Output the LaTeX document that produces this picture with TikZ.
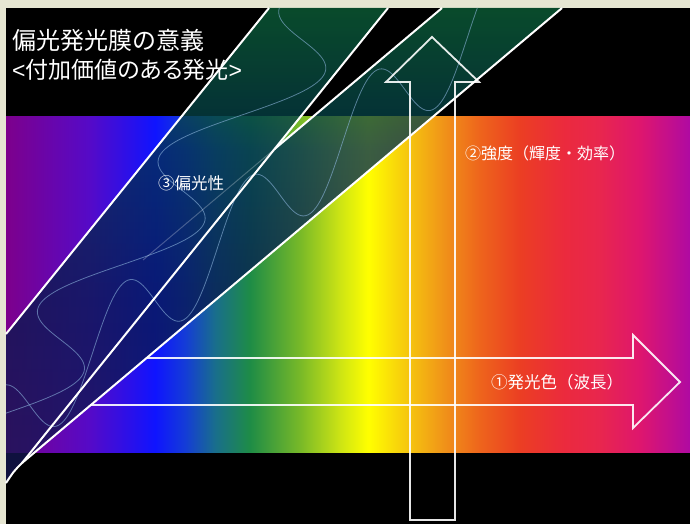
\documentclass[tikz,border=0pt]{standalone}
\usepackage{fontspec}
\newfontfamily\jpfont{Noto Sans CJK JP}
\newfontfamily\jppropfont[RawFeature=+palt]{Noto Sans CJK JP}
\newfontfamily\latinfont{Liberation Sans}
\usetikzlibrary{calc}

% page and backdrop
\definecolor{paper}{RGB}{230,230,210}
% spectrum stops
\definecolor{sp1}{RGB}{125,0,140}
\definecolor{sp2}{RGB}{85,10,200}
\definecolor{sp3}{RGB}{15,20,255}
\definecolor{sp4}{RGB}{20,60,215}
\definecolor{sp5}{RGB}{25,110,140}
\definecolor{sp6}{RGB}{30,140,70}
\definecolor{sp7}{RGB}{120,185,40}
\definecolor{sp8}{RGB}{205,228,20}
\definecolor{sp9}{RGB}{255,255,0}
\definecolor{sp10}{RGB}{245,195,15}
\definecolor{sp11}{RGB}{240,145,25}
\definecolor{sp12}{RGB}{238,100,28}
\definecolor{sp13}{RGB}{235,62,35}
\definecolor{sp14}{RGB}{235,42,62}
\definecolor{sp15}{RGB}{232,38,78}
\definecolor{sp16}{RGB}{222,22,110}
\definecolor{sp17}{RGB}{175,10,162}
% beam tint, bottom to top
\definecolor{bm1}{RGB}{22,22,82}
\definecolor{bm2}{RGB}{8,26,80}
\definecolor{bm3}{RGB}{4,48,84}
\definecolor{bm4}{RGB}{6,64,70}
\definecolor{bm5}{RGB}{12,96,56}
\definecolor{wavecol}{RGB}{140,180,220}

\pgfdeclarehorizontalshading{spectrum}{100bp}{%
  color(0bp)=(sp1); color(25bp)=(sp1); color(31.14bp)=(sp2);
  color(35.89bp)=(sp3); color(38.08bp)=(sp4); color(40.28bp)=(sp5);
  color(42.84bp)=(sp6); color(46.49bp)=(sp7); color(49.42bp)=(sp8);
  color(51.46bp)=(sp9); color(54.53bp)=(sp10); color(57.09bp)=(sp11);
  color(59.65bp)=(sp12); color(62.57bp)=(sp13); color(65.86bp)=(sp14);
  color(68.42bp)=(sp15); color(71.35bp)=(sp16); color(75bp)=(sp17);
  color(100bp)=(sp17)}

\pgfdeclareverticalshading{beamshade}{100bp}{%
  color(0bp)=(bm1); color(25bp)=(bm1); color(44.3bp)=(bm2);
  color(60bp)=(bm3); color(63.5bp)=(bm4); color(75bp)=(bm5);
  color(100bp)=(bm5)}

\tikzset{
  edgeline/.style={white, line width=2pt, line join=miter},
  arrowline/.style={white, draw opacity=0.9, line width=1.8pt, line join=miter},
  wave/.style={wavecol, draw opacity=0.6, line width=0.8pt},
  titletext/.style={anchor=base west, inner sep=0pt, text=white,
    font=\jpfont\fontsize{24}{28}\selectfont},
  lbltext/.style={anchor=center, inner sep=0pt, text=white,
    font=\jpfont\fontsize{16.5}{20}\selectfont}
}

\begin{document}
\begin{tikzpicture}[x=1pt, y=-1pt]
  \useasboundingbox (0,0) rectangle (690,524);
  \fill[paper] (0,0) rectangle (690,524);
  \fill[black] (6,8) rectangle (690,524);

  % beam corner points
  \coordinate (a1) at (269,8);
  \coordinate (a2) at (388,8);
  \coordinate (b1) at (442,8);
  \coordinate (b2) at (562,8);
  \coordinate (src) at (22,463);
  \coordinate (tail) at (6,483);
  \coordinate (a1end) at (6,334);
  \coordinate (cross) at (274.4,149.2);
  \coordinate (b1fade) at (143,260);

  % colour spectrum
  \shade[shading=spectrum] (6,117) rectangle (690,452);

  % wavelength arrow (its tail runs under the beam)
  \coordinate (h0) at (146.5,358);
  \coordinate (h1) at (633,358);
  \coordinate (h2) at (633,335);
  \coordinate (htip) at (680,382);
  \coordinate (h3) at (633,428);
  \coordinate (h4) at (633,405);
  \coordinate (h5) at (91,405);
  \draw[arrowline] (h0) -- (h1) -- (h2) -- (htip) -- (h3) -- (h4) -- (h5);

  % tinted beam
  \shade[shading=beamshade, opacity=0.78]
    (a1) -- (a2) -- (cross) -- (b1) -- (b2) -- (src)
    .. controls (14,471) .. (tail) -- (a1end) -- cycle;

  % oscillation curves inside the two beams
  \begin{scope}
    \clip (a1) -- (a2) -- (src) -- (tail) -- (a1end) -- cycle;
    \draw[wave] plot[domain=8:483, samples=220, variable=\t, smooth]
      ({328 - 0.8044*(\t-8) + 50*sin(2.4*(\t-40))}, {\t});
  \end{scope}
  \begin{scope}
    \clip (b1) -- (b2) -- (src) -- (tail) -- (6,377) -- cycle;
    \draw[wave] plot[domain=6:562, samples=220, variable=\s, smooth]
      ({\s}, {8 + (502-\s)/1.1868 + 44*sin(2.88*(\s-30))});
  \end{scope}

  % beam edges
  \draw[edgeline] (a1) -- (a1end);
  \draw[edgeline] (a2) -- (src);
  \draw[edgeline] (b1) -- (cross);
  \draw[white, opacity=0.25, line width=1pt] (cross) -- (b1fade);
  \draw[edgeline] (b2) -- (src) .. controls (14,471) .. (tail);

  % intensity arrow
  \coordinate (v0) at (410,520);
  \coordinate (v1) at (410,82);
  \coordinate (v2) at (386,82);
  \coordinate (vtip) at (432,37);
  \coordinate (v3) at (479,82);
  \coordinate (v4) at (455,82);
  \coordinate (v5) at (455,520);
  \draw[arrowline] (v0) -- (v1) -- (v2) -- (vtip) -- (v3) -- (v4) -- (v5) -- cycle;

  % texts
  \node[titletext] (title1) at (12,50) {偏光発光膜の意義};
  \node[titletext, font=\jppropfont\fontsize{23}{28}\selectfont] (title2) at (12,79)
    {{\latinfont <}付加価値のある発光{\latinfont >}};
  \node[lbltext] (polar) at (191,183) {③偏光性};
  \node[lbltext, font=\jpfont\fontsize{16}{20}\selectfont] (inten) at (545,153) {②強度（輝度・効率）};
  \node[lbltext] (color) at (557,382) {①発光色（波長）};
\end{tikzpicture}
\end{document}
